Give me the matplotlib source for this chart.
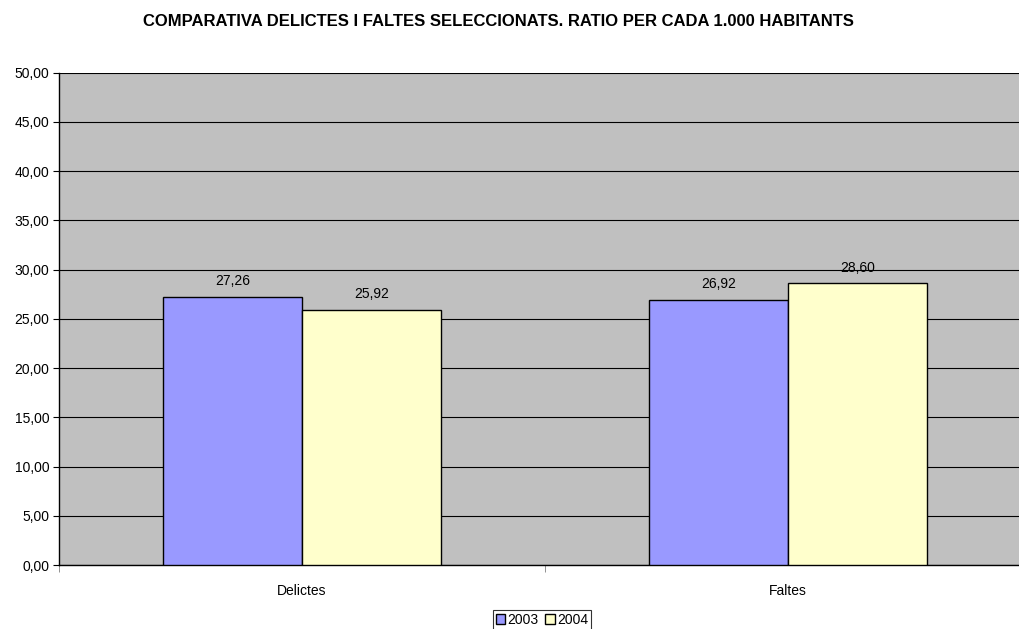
import matplotlib
matplotlib.use('Agg')
import matplotlib.pyplot as plt
import numpy as np

categories = ['Delictes', 'Faltes']
years = ['2003', '2004']
vals_2003 = [27.26, 26.92]
vals_2004 = [25.92, 28.60]
colors = ['#9999FF', '#FFFFCC']

plt.rcParams['font.family'] = ['Liberation Sans', 'DejaVu Sans']

fig = plt.figure(figsize=(10.19, 6.29), dpi=100)
ax = fig.add_axes([0.0579, 0.1017, 0.9539, 0.783])
ax.set_facecolor('#C0C0C0')

x = np.arange(len(categories))
w = 0.286
series = [vals_2003, vals_2004]
bars = []
for i, (vals, c, yr) in enumerate(zip(series, colors, years)):
    b = ax.bar(x + (i - 0.5) * w, vals, w, color=c, edgecolor='black', linewidth=1.0, label=yr, zorder=3)
    bars.append(b)
    for xi, v in zip(x + (i - 0.5) * w, vals):
        ax.text(xi, v + 1.6, f'{v:.2f}'.replace('.', ','), ha='center', va='center', fontsize=10, zorder=4)

ax.set_xlim(-0.5, 1.5)
ax.set_ylim(0, 50)
yt = np.arange(0, 51, 5)
ax.set_yticks(yt)
ax.set_yticklabels([f'{v:.2f}'.replace('.', ',') for v in yt], fontsize=10)
ax.yaxis.grid(True, color='black', linewidth=0.8, zorder=1)
ax.set_axisbelow(True)
ax.set_xticks(x)
ax.set_xticklabels(categories, fontsize=10)
ax.tick_params(axis='x', which='major', length=0, pad=14)
ax.set_xticks([-0.5, 0.5, 1.5], minor=True)
ax.tick_params(axis='x', which='minor', length=5, color='gray')
ax.tick_params(axis='y', length=4, width=0.8, pad=3)
for s in ['top', 'right']:
    ax.spines[s].set_visible(False)
for s in ['left', 'bottom']:
    ax.spines[s].set_color('black')
    ax.spines[s].set_linewidth(1.0)

fig.text(143 / 1019, 1 - 21 / 629, 'COMPARATIVA DELICTES I FALTES SELECCIONATS. RATIO PER CADA 1.000 HABITANTS',
         ha='left', va='center', fontsize=12, fontweight='bold')

leg = fig.legend(handles=bars, labels=years, loc='upper center', bbox_to_anchor=(542 / 1019, 1 - 610 / 629),
                 ncol=2, fontsize=10, frameon=True, fancybox=False, edgecolor='black',
                 handlelength=0.65, handleheight=0.65, handletextpad=0.2, columnspacing=0.5,
                 borderpad=0.2, borderaxespad=0)
leg.get_frame().set_linewidth(0.8)

fig.savefig('out.png', dpi=100)
